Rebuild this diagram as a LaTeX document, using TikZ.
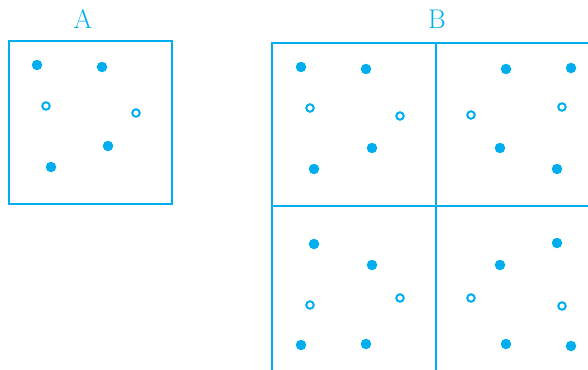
\documentclass[tikz,border=0pt]{standalone}
\definecolor{ncyan}{HTML}{00AEEF}
\tikzset{
  box/.style={draw=ncyan, line width=2.4pt},
  fdot/.style={circle, fill=ncyan, inner sep=0pt, minimum size=10.5pt},
  odot/.style={circle, draw=ncyan, line width=2pt, fill=white, inner sep=0pt, minimum size=7.5pt},
  lbl/.style={text=ncyan, font=\fontsize{27}{31}\selectfont, inner sep=0pt}
}
\begin{document}
\begin{tikzpicture}[x=1pt,y=-1pt]
\useasboundingbox (0,0) rectangle (588,369);
% labels
\node[lbl] (labA) at (83,19) {A};
\node[lbl] (labB) at (437,19) {B};
% box A
\draw[box] (9,41) rectangle (172,204);
\node[fdot] (a1) at (37,65) {};
\node[fdot] (a2) at (102,67) {};
\node[odot] (a3) at (46,106) {};
\node[odot] (a4) at (136,113) {};
\node[fdot] (a5) at (108,146) {};
\node[fdot] (a6) at (51,167) {};
% box B
\draw[box] (272,43) rectangle (600,380);
\draw[box] (436,43) -- (436,380);
\draw[box] (272,206) -- (600,206);
% B top-left
\node[fdot] (b1) at (301,67) {};
\node[fdot] (b2) at (366,69) {};
\node[odot] (b3) at (310,108) {};
\node[odot] (b4) at (400,116) {};
\node[fdot] (b5) at (372,148) {};
\node[fdot] (b6) at (314,169) {};
% B top-right
\node[fdot] (c1) at (506,69) {};
\node[fdot] (c2) at (571,68) {};
\node[odot] (c3) at (471,115) {};
\node[odot] (c4) at (562,107) {};
\node[fdot] (c5) at (500,148) {};
\node[fdot] (c6) at (557,169) {};
% B bottom-left
\node[fdot] (d1) at (314,244) {};
\node[fdot] (d2) at (372,265) {};
\node[odot] (d3) at (310,305) {};
\node[odot] (d4) at (400,298) {};
\node[fdot] (d5) at (301,345) {};
\node[fdot] (d6) at (366,344) {};
% B bottom-right
\node[fdot] (e1) at (557,243) {};
\node[fdot] (e2) at (500,265) {};
\node[odot] (e3) at (471,298) {};
\node[odot] (e4) at (562,306) {};
\node[fdot] (e5) at (506,344) {};
\node[fdot] (e6) at (571,346) {};
\end{tikzpicture}
\end{document}
